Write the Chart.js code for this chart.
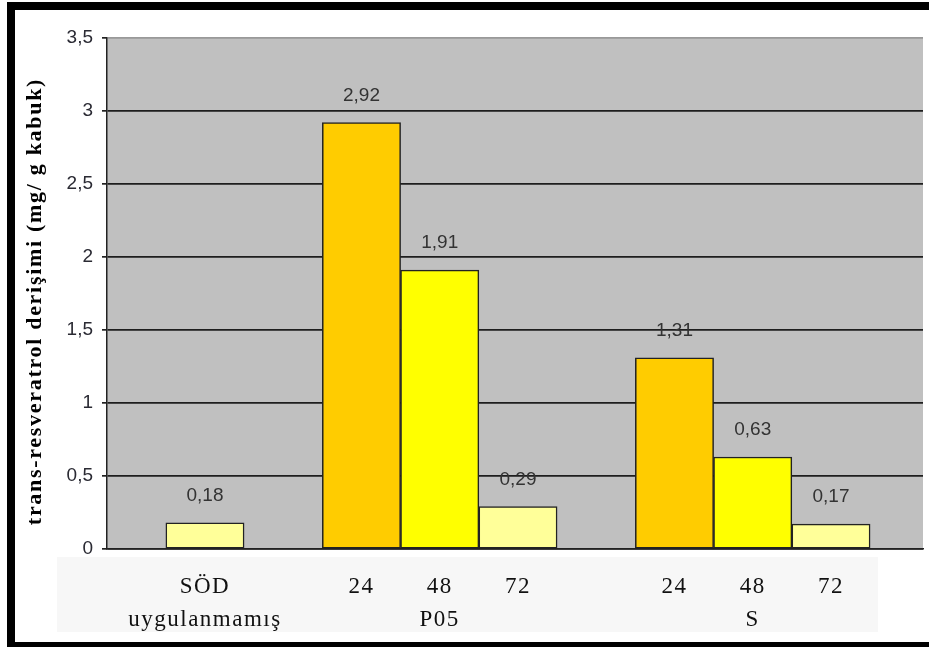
<!DOCTYPE html>
<html>
<head>
<meta charset="utf-8">
<script src="https://cdn.jsdelivr.net/npm/chart.js@4"></script>
<style>
  html, body { margin: 0; padding: 0; background: #fff; overflow: hidden; }
  #wrap { position: absolute; left: 0; top: 0; width: 929px; height: 647px; }
  #frame { position: absolute; left: 7px; top: 2px; width: 1000px; height: 648px; box-sizing: border-box;
           border: 8px solid #000; pointer-events: none; }
</style>
</head>
<body>
<div id="wrap"><canvas id="c" width="929" height="647"></canvas></div>
<div id="frame"></div>
<script>
// ---- data ----
const categories = ['SÖD', '', '24', '48', '72', '', '24', '48', '72'];
const groupLabels = ['uygulanmamış', '', '', 'P05', '', '', '', 'S', ''];
const values = [0.18, null, 2.92, 1.91, 0.29, null, 1.31, 0.63, 0.17];
const yTicks = [0, 0.5, 1, 1.5, 2, 2.5, 3, 3.5];
const yTitle = 'trans-resveratrol derişimi (mg/ g kabuk)';

// ---- styles ----
const barColors = { 'SÖD': '#FFFF99', '24': '#FFCC00', '48': '#FFFF00', '72': '#FFFF99' };

const fmt = v => String(v).replace('.', ',');

const points = [];
categories.forEach((c, i) => { if (values[i] != null) points.push({ x: i, y: values[i] }); });
const tickPositions = categories.map((c, i) => i).filter(i => categories[i] !== '');

const spacingPlugin = {
  id: 'spacing',
  beforeDraw(chart) {
    const wrap = (scale, method, spacing, dy) => {
      if (!scale || scale['_w_' + method]) return;
      const orig = scale[method];
      scale[method] = function (...args) {
        const ctx = this.ctx; ctx.save(); ctx.letterSpacing = spacing; ctx.translate(0, dy);
        orig.apply(this, args); ctx.restore();
      };
      scale['_w_' + method] = true;
    };
    wrap(chart.scales.y, 'drawTitle', '1.7px', 8);
    wrap(chart.scales.x, 'drawLabels', '1.5px', 0);
    const { ctx, chartArea: a } = chart;
    ctx.save();
    ctx.fillStyle = '#f7f7f7';
    ctx.fillRect(a.left - 50, a.bottom + 8, a.right - 45 - (a.left - 50), 75);
    ctx.restore();
  }
};

const plotBg = {
  id: 'plotBg',
  beforeDraw(chart) {
    const { ctx, chartArea: a } = chart;
    ctx.save();
    ctx.fillStyle = '#C0C0C0';
    ctx.fillRect(a.left, a.top, a.right - a.left, a.bottom - a.top);
    ctx.restore();
  }
};

const valueLabels = {
  id: 'valueLabels',
  afterDatasetsDraw(chart) {
    const { ctx } = chart;
    const meta = chart.getDatasetMeta(0);
    ctx.save();
    ctx.font = '19px "Liberation Sans", Arial, sans-serif';
    ctx.fillStyle = '#333';
    ctx.textAlign = 'center';
    ctx.textBaseline = 'middle';
    meta.data.forEach((el, i) => {
      ctx.fillText(fmt(points[i].y), el.x, el.y - 27);
    });
    ctx.restore();
  }
};

new Chart(document.getElementById('c'), {
  type: 'bar',
  data: {
    datasets: [{
      data: points,
      backgroundColor: points.map(p => barColors[categories[p.x]]),
      borderColor: '#222',
      borderWidth: 1.5,
      borderSkipped: false,
      barPercentage: 1,
      categoryPercentage: 1
    }]
  },
  options: {
    responsive: false,
    animation: false,
    events: [],
    layout: { padding: { left: 0, top: 38, right: 6, bottom: 0 } },
    plugins: { legend: { display: false }, tooltip: { enabled: false } },
    scales: {
      x: {
        type: 'linear',
        offset: false,
        min: -1.252,
        max: 9.176,
        afterBuildTicks: s => { s.ticks = tickPositions.map(v => ({ value: v })); },
        afterFit: s => { s.height = 98; },
        grid: { display: false, drawTicks: false },
        border: { display: true, color: '#222', width: 1.5 },
        ticks: {
          autoSkip: false,
          maxRotation: 0,
          padding: 22,
          color: '#111',
          font: { family: '"Liberation Serif", "Times New Roman", serif', size: 23, lineHeight: 1.43 },
          callback: v => groupLabels[v] ? [categories[v], groupLabels[v]] : categories[v]
        }
      },
      y: {
        min: 0,
        max: 3.5,
        afterBuildTicks: s => { s.ticks = yTicks.map(v => ({ value: v })); },
        afterFit: s => { s.width = 107; },
        grid: {
          color: ctx => (ctx.tick && ctx.tick.value === 3.5) ? '#999' : '#1e1e1e',
          lineWidth: 1.7,
          tickLength: 5,
          tickColor: '#222'
        },
        border: { display: true, color: '#222', width: 1.5 },
        ticks: {
          padding: 9,
          color: '#2a2a33',
          font: { family: '"Liberation Sans", Arial, sans-serif', size: 19 },
          callback: v => fmt(v)
        },
        title: {
          display: true,
          text: yTitle,
          color: '#000',
          padding: { top: 22, bottom: 0 },
          font: { family: '"Liberation Serif", "Times New Roman", serif', size: 22, weight: 'bold' }
        }
      }
    }
  },
  plugins: [plotBg, spacingPlugin, valueLabels]
});
</script>
</body>
</html>
